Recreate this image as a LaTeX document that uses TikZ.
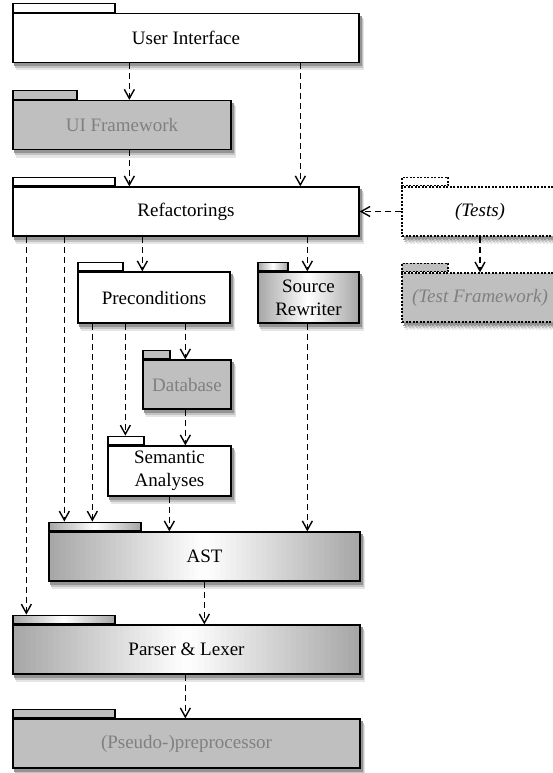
\documentclass[tikz,border=0pt]{standalone}
\usepackage{fontspec}
\setmainfont{Liberation Serif}
\usetikzlibrary{positioning,calc,shadows,arrows.meta}
\tikzstyle{dep} = [line width=1.5pt,dash pattern=on 6pt off 4pt,-{Straight Barb[length=9pt,width=10pt,line width=1.4pt]}]

\begin{document}
\begin{tikzpicture} [x=1pt,y=-1pt,
    pkg/.style={rectangle,draw,line width=1.3pt,inner sep=0pt,minimum height=49pt,align=center,
      font=\fontsize{19}{23}\selectfont,
      general shadow={shadow xshift=4pt,shadow yshift=-7pt,fill=black!10,draw=black!10,line width=2pt},
      general shadow={shadow xshift=3pt,shadow yshift=-5pt,fill=black!24,draw=black!24,line width=1.5pt},
      general shadow={shadow xshift=2pt,shadow yshift=-3pt,fill=black!42,draw=black!42}},
    pkgtab/.style={rectangle,draw,line width=1.3pt,inner sep=0pt,minimum height=8.5pt,anchor=south west},
    whitebox/.style={fill=white},
    greybox/.style={fill=gray!50,text=gray},
    glossy/.style={fill=white,path picture={
      \foreach \i in {0,...,59} {
        \pgfmathsetmacro\shadeval{70*abs(1-(2*\i+1)/60)}
        \fill[gray!\shadeval] ($(path picture bounding box.south west)!\i/60!(path picture bounding box.south east)$)
          rectangle ($(path picture bounding box.north west)!{(\i+1.3)/60}!(path picture bounding box.north east)$);
      }}},
    dots/.style={dash pattern=on 2pt off 1.5pt},
    ]
    \useasboundingbox (0,0) rectangle (553,773);

    % packages
    \node [pkg,whitebox,minimum width=346pt] (ui) at (186,38) {User Interface};
    \node [pkgtab,whitebox,minimum width=102pt] (uitab) at (ui.north west) {};
    \node [pkg,greybox,minimum width=218pt] (uifw) at (122,125) {UI Framework};
    \node [pkgtab,greybox,minimum width=64pt] (uifwtab) at (uifw.north west) {};
    \node [pkg,whitebox,minimum width=346pt] (refac) at (186,211.5) {Refactorings};
    \node [pkgtab,whitebox,minimum width=102pt] (refactab) at (refac.north west) {};
    \node [pkg,whitebox,dots,minimum width=156pt,font=\fontsize{19}{23}\selectfont\itshape] (tests) at (480,211.5) {(Tests)};
    \node [pkgtab,whitebox,dots,minimum width=46pt] (teststab) at (tests.north west) {};
    \node [pkg,greybox,dots,minimum width=156pt,font=\fontsize{19}{23}\selectfont\itshape] (testfw) at (480,297.5) {(Test Framework)};
    \node [pkgtab,greybox,dots,minimum width=46pt] (testfwtab) at (testfw.north west) {};
    \node [pkg,whitebox,minimum width=152pt,minimum height=51pt] (precond) at (154,297.5) {Preconditions};
    \node [pkgtab,whitebox,minimum width=45pt] (precondtab) at (precond.north west) {};
    \node [pkg,glossy,minimum width=101pt,minimum height=51pt] (srcrw) at (308.5,297.5) {Source\\Rewriter};
    \node [pkgtab,glossy,minimum width=30pt] (srcrwtab) at (srcrw.north west) {};
    \node [pkg,greybox,minimum width=88pt] (db) at (187,384.5) {Database};
    \node [pkgtab,greybox,minimum width=27pt] (dbtab) at (db.north west) {};
    \node [pkg,whitebox,minimum width=123pt,minimum height=50pt] (sem) at (169.5,471) {Semantic\\Analyses};
    \node [pkgtab,whitebox,minimum width=36pt] (semtab) at (sem.north west) {};
    \node [pkg,glossy,minimum width=311pt] (ast) at (204.5,556.5) {AST};
    \node [pkgtab,glossy,minimum width=92pt] (asttab) at (ast.north west) {};
    \node [pkg,glossy,minimum width=347pt] (parser) at (186.5,649.5) {Parser \& Lexer};
    \node [pkgtab,glossy,minimum width=102pt] (parsertab) at (parser.north west) {};
    \node [pkg,greybox,minimum width=347pt] (pre) at (186.5,743.5) {(Pseudo-)preprocessor};
    \node [pkgtab,greybox,minimum width=102pt] (pretab) at (pre.north west) {};

    % dependencies
    \draw[dep] ([xshift=117pt]ui.south west) -- ([xshift=117pt]uifw.north west);
    \draw[dep] ([xshift=117pt]uifw.south west) -- ([xshift=117pt]refac.north west);
    \draw[dep] ([xshift=288pt]ui.south west) -- ([xshift=288pt]refac.north west);
    \draw[dep] (tests.west) -- (refac.east);
    \draw[dep] (tests.south) -- (testfw.north);
    \draw[dep] ([xshift=130pt]refac.south west) -- ([xshift=65pt]precond.north west);
    \draw[dep] ([xshift=295pt]refac.south west) -- ([xshift=50pt]srcrw.north west);
    \draw[dep] ([xshift=14pt]refac.south west) -- ([xshift=14pt]parsertab.north west);
    \draw[dep] ([xshift=52pt]refac.south west) -- ([xshift=16pt]asttab.north west);
    \draw[dep] ([xshift=15pt]precond.south west) -- ([xshift=44pt]asttab.north west);
    \draw[dep] ([xshift=48pt]precond.south west) -- ([xshift=18pt]semtab.north west);
    \draw[dep] ([xshift=108pt]precond.south west) -- ([xshift=43pt]db.north west);
    \draw[dep] ([xshift=43pt]db.south west) -- ([xshift=78pt]sem.north west);
    \draw[dep] ([xshift=62pt]sem.south west) -- ([xshift=121pt]ast.north west);
    \draw[dep] ([xshift=50pt]srcrw.south west) -- ([xshift=259pt]ast.north west);
    \draw[dep] ([xshift=156pt]ast.south west) -- ([xshift=192pt]parser.north west);
    \draw[dep] ([xshift=173pt]parser.south west) -- ([xshift=173pt]pre.north west);
\end{tikzpicture}
\end{document}
